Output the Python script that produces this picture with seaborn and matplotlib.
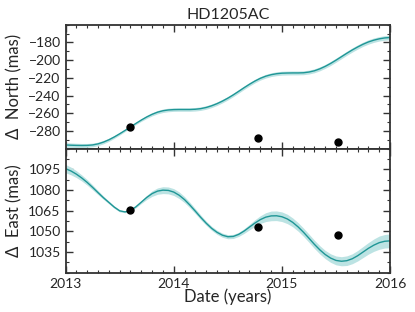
import numpy as np
import pandas as pd
import matplotlib
matplotlib.use("Agg")
import matplotlib.pyplot as plt
import seaborn as sns
from matplotlib.ticker import MultipleLocator

# model curve, every 0.05 yr
dates = np.linspace(2013, 2016, 61)
north = [-295.8, -296.1, -296.3, -296.4, -296.3, -295.8, -294.6, -292.6, -290.0, -286.8,
         -283.2, -279.4, -275.5, -271.5, -267.7, -264.2, -261.2, -258.8, -257.2, -256.3,
         -255.9, -255.8, -255.8, -255.8, -255.5, -254.8, -253.5, -251.6, -249.2, -246.3,
         -243.0, -239.3, -235.3, -231.2, -227.3, -223.7, -220.6, -218.2, -216.5, -215.4,
         -214.8, -214.6, -214.5, -214.5, -214.3, -213.5, -212.1, -209.9, -207.1, -203.8,
         -200.1, -196.2, -192.3, -188.6, -185.2, -182.1, -179.5, -177.5, -176.0, -175.0,
         -174.5]
north_err = [2.6, 2.5, 2.4, 2.3, 2.2, 2.1, 2.0, 1.9, 1.8, 1.6,
             1.5, 1.3, 1.2, 1.3, 1.5, 1.7, 1.8, 1.9, 2.0, 2.0,
             2.0, 2.0, 2.0, 2.0, 2.0, 2.0, 2.0, 2.0, 2.0, 2.0,
             2.0, 2.0, 2.0, 2.0, 2.0, 2.0, 2.0, 2.1, 2.1, 2.2,
             2.2, 2.2, 2.2, 2.2, 2.2, 2.2, 2.2, 2.2, 2.2, 2.3,
             2.3, 2.3, 2.3, 2.4, 2.4, 2.4, 2.5, 2.5, 2.5, 2.6,
             2.6]
east = [1095.5, 1093.8, 1091.5, 1088.7, 1085.5, 1081.9, 1078.1, 1074.4, 1071.0, 1067.6,
        1064.9, 1064.1, 1065.2, 1067.8, 1071.2, 1074.6, 1077.4, 1079.2, 1079.9, 1079.7,
        1078.5, 1076.2, 1073.0, 1069.0, 1064.6, 1060.1, 1055.9, 1052.2, 1049.3, 1047.2,
        1046.1, 1046.3, 1047.8, 1050.2, 1053.1, 1056.0, 1058.5, 1060.3, 1061.2, 1061.3,
        1060.6, 1059.0, 1056.5, 1053.2, 1049.3, 1045.0, 1040.6, 1036.6, 1033.2, 1030.6,
        1028.9, 1028.3, 1028.7, 1030.1, 1032.3, 1035.0, 1037.7, 1040.0, 1041.8, 1042.8,
        1043.1]
east_err = [3.0, 2.8, 2.5, 2.2, 2.0, 1.8, 1.5, 1.2, 1.0, 0.9,
            0.8, 0.6, 0.5, 0.7, 1.0, 1.5, 2.0, 2.3, 2.5, 2.5,
            2.5, 2.4, 2.2, 2.0, 1.8, 1.7, 1.5, 1.5, 1.5, 1.5,
            1.5, 1.5, 1.5, 1.7, 2.0, 2.4, 2.8, 3.2, 3.5, 3.5,
            3.5, 3.4, 3.2, 3.1, 3.0, 3.0, 3.0, 3.0, 3.0, 3.1,
            3.2, 3.3, 3.5, 3.6, 3.8, 4.0, 4.2, 4.5, 4.8, 4.9,
            5.0]

# measured astrometry
obs_date = [2013.60, 2014.78, 2015.52]
obs_north = [-275.5, -288.2, -292.0]
obs_north_err = [1.0, 3.0, 1.0]
obs_east = [1065.5, 1053.2, 1047.4]
obs_east_err = [1.0, 1.0, 1.0]

line_col = "#1f9696"
band_col = "#bce3e3"

sns.set_style("ticks")
plt.rcParams["font.family"] = ["Lato", "DejaVu Sans"]
plt.rcParams["axes.linewidth"] = 1.3
plt.rcParams["axes.edgecolor"] = "#333333"

model = pd.DataFrame({"date": dates, "north": north, "east": east})

fig, (ax1, ax2) = plt.subplots(2, 1, sharex=True, figsize=(4.15, 3.12), dpi=100)
fig.subplots_adjust(left=0.158, right=0.94, top=0.921, bottom=0.126, hspace=0)

for ax, col, err, od, oe in [(ax1, "north", north_err, obs_north, obs_north_err),
                             (ax2, "east", east_err, obs_east, obs_east_err)]:
    y = model[col].to_numpy()
    e = np.array(err)
    ax.fill_between(model["date"], y - e, y + e, color=band_col, lw=0)
    sns.lineplot(data=model, x="date", y=col, ax=ax, color=line_col, lw=1.0)
    ax.errorbar(obs_date, od, yerr=oe, fmt="o", color="black", ms=5, elinewidth=1.2, capsize=0)
    ax.tick_params(which="both", direction="in", top=True, right=True, labelsize=10,
                   color="#333333")
    ax.tick_params(which="major", length=5, width=1)
    ax.tick_params(which="minor", length=2.5, width=0.8)
    ax.xaxis.set_minor_locator(MultipleLocator(0.1))
    ax.set_xlabel("")

ax1.set_xlim(2013, 2016)
ax1.set_ylim(-300, -160)
ax1.set_yticks([-280, -260, -240, -220, -200, -180])
ax1.yaxis.set_minor_locator(MultipleLocator(10))
ax1.set_ylabel("Δ  North (mas)", fontsize=12)
ax1.set_title("HD1205AC", fontsize=11.5, pad=4)

ax2.set_ylim(1020, 1110)
ax2.set_yticks([1035, 1050, 1065, 1080, 1095])
ax2.yaxis.set_minor_locator(MultipleLocator(7.5))
ax2.set_ylabel("Δ  East (mas)", fontsize=12)
ax2.set_xticks([2013, 2014, 2015, 2016])
ax2.set_xticklabels(["2013", "2014", "2015", "2016"])
ax2.set_xlabel("Date (years)", fontsize=12, labelpad=-1)

fig.savefig("out.png", dpi=100)
